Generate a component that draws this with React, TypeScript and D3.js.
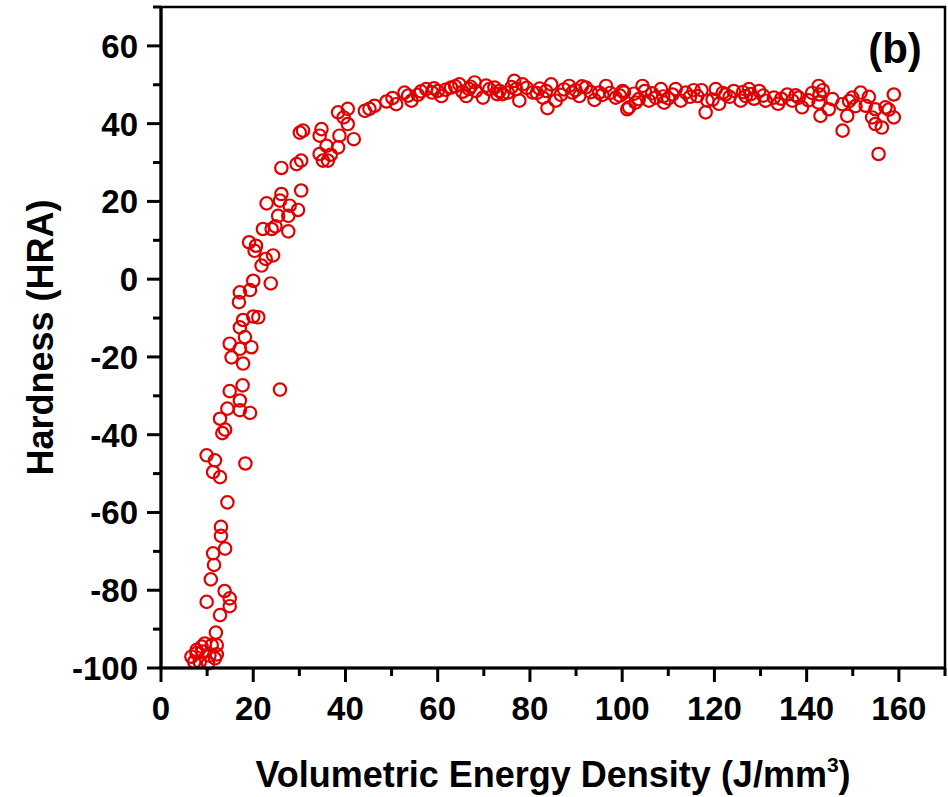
import React from "react";
import * as d3 from "d3";

// energy density (J/mm3) and hardness (HRA)
const rampEnergy = [
  6.6, 7.2, 7.7, 7.7, 8.4, 9.0, 9.5, 10.2, 11.0, 11.7, 12.1, 11.9, 12.1, 10.5, 8.8,
  12.8, 14.9, 9.9, 14.9, 13.8, 10.8, 11.5, 11.3, 13.9, 13.0, 13.0, 14.4, 12.8, 11.3,
  11.7, 9.9, 18.3, 13.3, 13.9, 12.8, 19.3, 17.1, 14.4, 17.1, 14.9, 17.7, 25.8, 17.8,
  15.3, 14.9, 19.6, 17.1, 18.2, 17.1, 17.8, 20.0, 21.1, 16.9, 17.1, 19.3, 20.0, 23.8,
  21.8, 22.7, 24.3, 20.3, 19.1, 22.1, 24.0, 27.6, 25.4, 27.6, 29.7, 27.9, 22.9, 25.8,
  26.1, 30.4, 26.1, 29.4, 30.4, 30.1, 30.8, 34.8, 34.4, 35.9, 34.4, 35.1, 36.2, 38.4,
  40.5, 40.5, 38.7, 38.4, 41.8, 44.2, 45.2, 46.3, 20.6, 24.8, 36.8, 39.6,
];
const rampHardness = [
  -97.1, -98.4, -95.4, -96.2, -98.4, -95.8, -93.7, -98.8, -94.1, -97.5, -94.1, -90.9, -96.5, -96.8, -94.5,
  -86.4, -84.1, -83, -82.1, -80.2, -77.2, -73.5, -70.5, -69.3, -66, -63.7, -57.4, -50.9, -49.6,
  -46.6, -45.3, -47.4, -39.6, -38.7, -35.9, -34.4, -33.7, -33.3, -31.2, -28.8, -27.3, -28.4, -21.7,
  -20.1, -16.6, -17.5, -17.9, -14.9, -12.4, -10.5, -9.6, -9.8, -5.9, -3.4, -2.8, -0.4, -1.1,
  3.5, 5.2, 6.1, 7.3, 9.5, 12.9, 12.9, 12.3, 16.3, 16.3, 17.8, 18.9, 19.5, 20.2,
  21.9, 22.8, 28.6, 29.6, 30.5, 37.7, 38.2, 38.6, 36.9, 34.3, 32.2, 30.5, 30.5, 42.9,
  43.8, 39.9, 36.9, 33.9, 36.0, 43.3, 43.8, 44.6, 8.6, 13.6, 32.0, 41.6,
];

const plateauEnergy = [
  48.9, 51.0, 52.8, 54.3, 55.7, 57.5, 60.0, 60.8, 62.9, 64.7, 66.2, 68.0, 68.3, 69.8,
  71.2, 72.3, 73.4, 75.2, 76.6, 77.0, 77.7, 78.4, 80.6, 82.8, 83.5, 83.8, 84.6, 85.6,
  86.7, 88.5, 89.2, 90.7, 92.1, 94.0, 95.0, 96.5, 98.6, 100.1, 101.1, 102.6, 102.9,
  100.4, 101.5, 104.4, 105.8, 107.3, 108.4, 109.1, 110.9, 111.6, 112.7, 113.8, 116.3,
  118.1, 118.5, 120.3, 121.0, 122.4, 124.2, 125.7, 126.8, 127.5, 129.7, 131.1, 132.9,
  135.8, 136.9, 138.3, 139.0, 142.6, 142.8, 142.6, 143.0, 144.8, 147.7, 147.8, 148.8,
  149.9, 151.7, 152.8, 154.9, 154.9, 156.3, 155.6, 157.1, 158.9, 158.9, 154.2, 150.6,
  50.2, 53.6, 56.4, 58.8, 61.7, 63.8, 65.4, 67.1, 70.5, 74.1, 79.3, 81.5, 87.4, 91.3,
  93.2, 97.4, 99.5, 103.6, 106.5, 110.0, 114.7, 117.2, 119.6, 123.3, 127.9, 130.6,
  133.8, 137.6, 140.4, 141.2, 145.6, 153.5,
  59.2, 66.8, 72.9, 76.0, 82.1, 89.9, 95.7, 104.9, 108.9, 115.5, 121.8, 126.2, 128.6,
  134.5, 143.5, 149.2, 157.8,
];
const plateauHardness = [
  45.7, 45.0, 48.0, 45.9, 47.4, 48.9, 48.4, 47.1, 49.3, 50.1, 47.1, 50.6, 48.4, 46.7,
  48.9, 49.3, 48.4, 48.0, 51.0, 48.9, 45.9, 50.1, 48.0, 46.7, 48.4, 44.0, 50.1, 45.9,
  47.4, 49.7, 48.0, 47.1, 49.3, 46.1, 48.0, 49.7, 46.7, 48.4, 43.7, 47.7, 45.4,
  48.0, 44.2, 49.7, 45.9, 46.7, 48.9, 45.4, 47.5, 48.9, 45.9, 48.0, 47.1,
  42.9, 45.9, 48.9, 45.1, 47.5, 48.4, 45.9, 47.1, 48.9, 48.4, 45.9, 46.7,
  47.5, 45.9, 46.7, 44.2, 49.7, 47.5, 45.4, 42.0, 43.7, 45.0, 38.2, 42.0,
  46.7, 48.0, 44.6, 43.7, 39.9, 39.0, 32.2, 44.2, 47.5, 41.6, 41.6, 44.5,
  46.6, 47.2, 48.3, 48.0, 48.7, 49.6, 48.2, 49.5, 49.8, 47.6, 49.2, 47.9, 48.8, 49.6,
  48.1, 47.9, 47.2, 46.3, 47.8, 46.5, 46.9, 48.6, 46.2, 46.9, 47.6, 47.2,
  45.1, 47.3, 46.0, 47.9, 46.3, 46.9,
  49.1, 48.9, 47.6, 49.4, 49.0, 48.6, 47.4, 48.4, 47.0, 48.6, 47.9, 48.1, 46.4,
  46.4, 48.6, 45.8, 43.6,
];

const xTicks = [0, 20, 40, 60, 80, 100, 120, 140, 160];
const xMinor = [10, 30, 50, 70, 90, 110, 130, 150, 170];
const yTicks = [-100, -80, -60, -40, -20, 0, 20, 40, 60];
const yMinor = [-90, -70, -50, -30, -10, 10, 30, 50, 70];

const xTitle = "Volumetric Energy Density (J/mm";
const yTitle = "Hardness (HRA)";
const panelLabel = "(b)";

const W = 948;
const H = 797;
const font = "'Liberation Sans', Arial, Helvetica, sans-serif";
const red = "#e00000";

export default function App() {
  const left = 161, right = 945, top = 7, bottom = 668;
  const x = d3.scaleLinear().domain([0, 170]).range([left, right]);
  const y = d3.scaleLinear().domain([-100, 70]).range([bottom, top]);

  const points = [
    ...rampEnergy.map((e, i) => [e, rampHardness[i]]),
    ...plateauEnergy.map((e, i) => [e, plateauHardness[i]]),
  ];

  return (
    <svg width={W} height={H} style={{ position: "absolute", left: 0, top: 0, background: "#fff" }}>
      <g>
        {points.map(([e, h], i) => (
          <circle key={i} cx={x(e)} cy={y(h)} r={6.2} fill="none" stroke={red} strokeWidth={2.2} />
        ))}
      </g>

      {/* frame */}
      <rect x={left} y={top} width={right - left} height={bottom - top} fill="none" stroke="#000" strokeWidth={2.5} />
      <line x1={left} x2={left} y1={top} y2={bottom + 1.5} stroke="#000" strokeWidth={3.2} />
      <line x1={left - 1.5} x2={right} y1={bottom} y2={bottom} stroke="#000" strokeWidth={3.2} />

      {/* x axis */}
      {xTicks.map((t) => (
        <g key={"xt" + t}>
          <line x1={x(t)} x2={x(t)} y1={bottom} y2={bottom + 14} stroke="#000" strokeWidth={3} />
          <text x={x(t)} y={720} textAnchor="middle" fontFamily={font} fontWeight="bold" fontSize={33}>
            {t}
          </text>
        </g>
      ))}
      {xMinor.map((t) => (
        <line key={"xm" + t} x1={x(t)} x2={x(t)} y1={bottom} y2={bottom + 8} stroke="#000" strokeWidth={3} />
      ))}

      {/* y axis */}
      {yTicks.map((t) => (
        <g key={"yt" + t}>
          <line x1={left - 14} x2={left} y1={y(t)} y2={y(t)} stroke="#000" strokeWidth={3} />
          <text x={138} y={y(t) + 12} textAnchor="end" fontFamily={font} fontWeight="bold" fontSize={33}>
            {t}
          </text>
        </g>
      ))}
      {yMinor.map((t) => (
        <line key={"ym" + t} x1={left - 8} x2={left} y1={y(t)} y2={y(t)} stroke="#000" strokeWidth={3} />
      ))}

      {/* titles */}
      <text x={(left + right) / 2} y={787} textAnchor="middle" fontFamily={font} fontWeight="bold" fontSize={36}>
        {xTitle}
        <tspan fontSize={21} dy={-15}>3</tspan>
        <tspan dy={15}>)</tspan>
      </text>
      <text
        transform={`translate(53,${(top + bottom) / 2}) rotate(-90)`}
        textAnchor="middle"
        fontFamily={font}
        fontWeight="bold"
        fontSize={36}
      >
        {yTitle}
      </text>
      <text x={895} y={63} textAnchor="middle" fontFamily={font} fontWeight="bold" fontSize={42}>
        {panelLabel}
      </text>
    </svg>
  );
}
